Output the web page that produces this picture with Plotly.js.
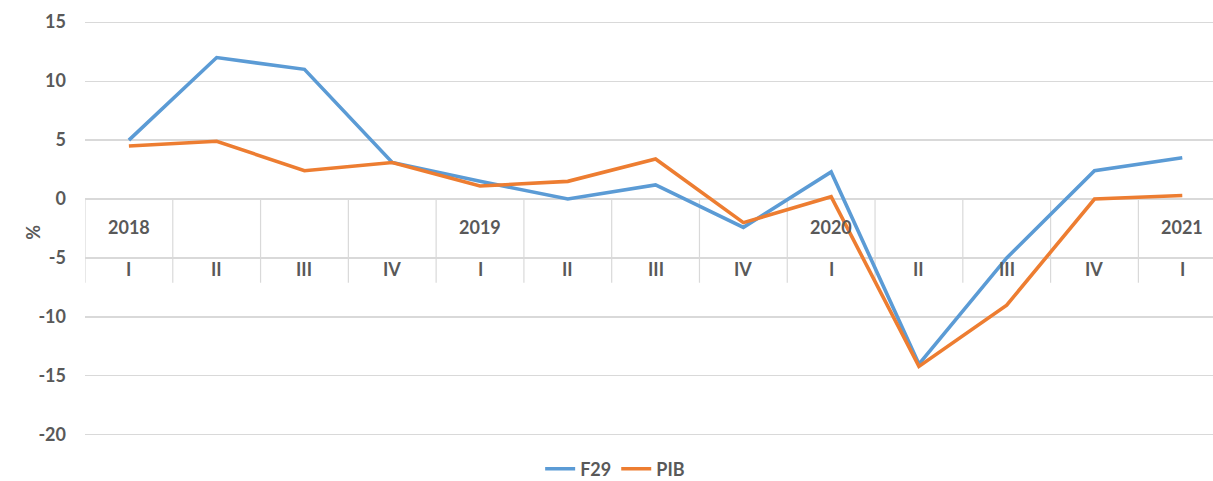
<!DOCTYPE html>
<html>
<head>
<meta charset="utf-8">
<script src="https://cdn.plot.ly/plotly-3.0.1.min.js"></script>
<style>html,body{margin:0;padding:0;background:#fff;}#chart{width:1213px;height:481px;}</style>
</head>
<body>
<div id="chart"></div>
<script>
// Data
const quarters = ["I","II","III","IV","I","II","III","IV","I","II","III","IV","I"];
const years = ["2018","","","","2019","","","","2020","","","","2021"];
const f29 = [5.0, 12.0, 11.0, 3.1, 1.5, 0.0, 1.2, -2.4, 2.3, -14.0, -5.0, 2.4, 3.5];
const pib = [4.5, 4.9, 2.4, 3.1, 1.1, 1.5, 3.4, -2.0, 0.2, -14.2, -9.0, 0.0, 0.3];
const yTicks = [-20, -15, -10, -5, 0, 5, 10, 15];

const BLUE = "#5B9BD5", ORANGE = "#ED7D31", TXT = "#595959", GRID = "#D9D9D9";
const FONT = "Lato, 'Open Sans', sans-serif";
const FS = 18;
const xs = quarters.map((_, i) => i);

const traces = [
  {x: xs, y: f29, name: "F29", type: "scatter", mode: "lines",
   line: {color: BLUE, width: 3.6}},
  {x: xs, y: pib, name: "PIB", type: "scatter", mode: "lines",
   line: {color: ORANGE, width: 3.6}}
];

const shapes = [];
for (let i = 0; i <= quarters.length; i++) {
  shapes.push({type: "line", xref: "x", yref: "y", x0: i - 0.5, x1: i - 0.5,
    y0: 0, y1: -7.1, line: {color: GRID, width: 1.2}, layer: "below"});
}

const annotations = [];
quarters.forEach((q, i) => {
  annotations.push({x: i, y: -5.9, xref: "x", yref: "y", text: q, showarrow: false,
    font: {family: FONT, size: FS, color: TXT, weight: "bold"}});
  if (years[i]) annotations.push({x: i, y: -2.4, xref: "x", yref: "y", text: years[i], showarrow: false,
    font: {family: FONT, size: FS, color: TXT, weight: "bold"}});
});
annotations.push({xref: "paper", yref: "paper", x: -0.0576, y: 0.49, text: "%", showarrow: false,
  textangle: -90, font: {family: FONT, size: FS, color: TXT, weight: "bold"}});

const layout = {
  width: 1213, height: 481,
  margin: {l: 85, r: 0, t: 21, b: 45, autoexpand: false},
  paper_bgcolor: "#fff", plot_bgcolor: "#fff",
  font: {family: FONT, color: TXT},
  xaxis: {range: [-0.5, 12.35], showticklabels: false, showgrid: false, zeroline: false,
    showline: false, ticks: "", automargin: false},
  yaxis: {range: [-20.1, 15.1], tickvals: yTicks, ticktext: yTicks.map(v => String(v)),
    showgrid: true, automargin: false,
    gridcolor: GRID, gridwidth: 1.2, zeroline: false, showline: false, ticks: "",
    ticklabelstandoff: 18,
    tickfont: {family: FONT, size: FS, color: TXT, weight: "bold"}},
  showlegend: true,
  legend: {orientation: "h", x: 0.47, xanchor: "center", y: -0.0795, yanchor: "middle",
    font: {family: FONT, size: FS, color: TXT, weight: "bold"}, itemwidth: 30, tracegroupgap: 0},
  shapes: shapes,
  annotations: annotations
};

Plotly.newPlot("chart", traces, layout, {displayModeBar: false, staticPlot: true});
</script>
</body>
</html>
